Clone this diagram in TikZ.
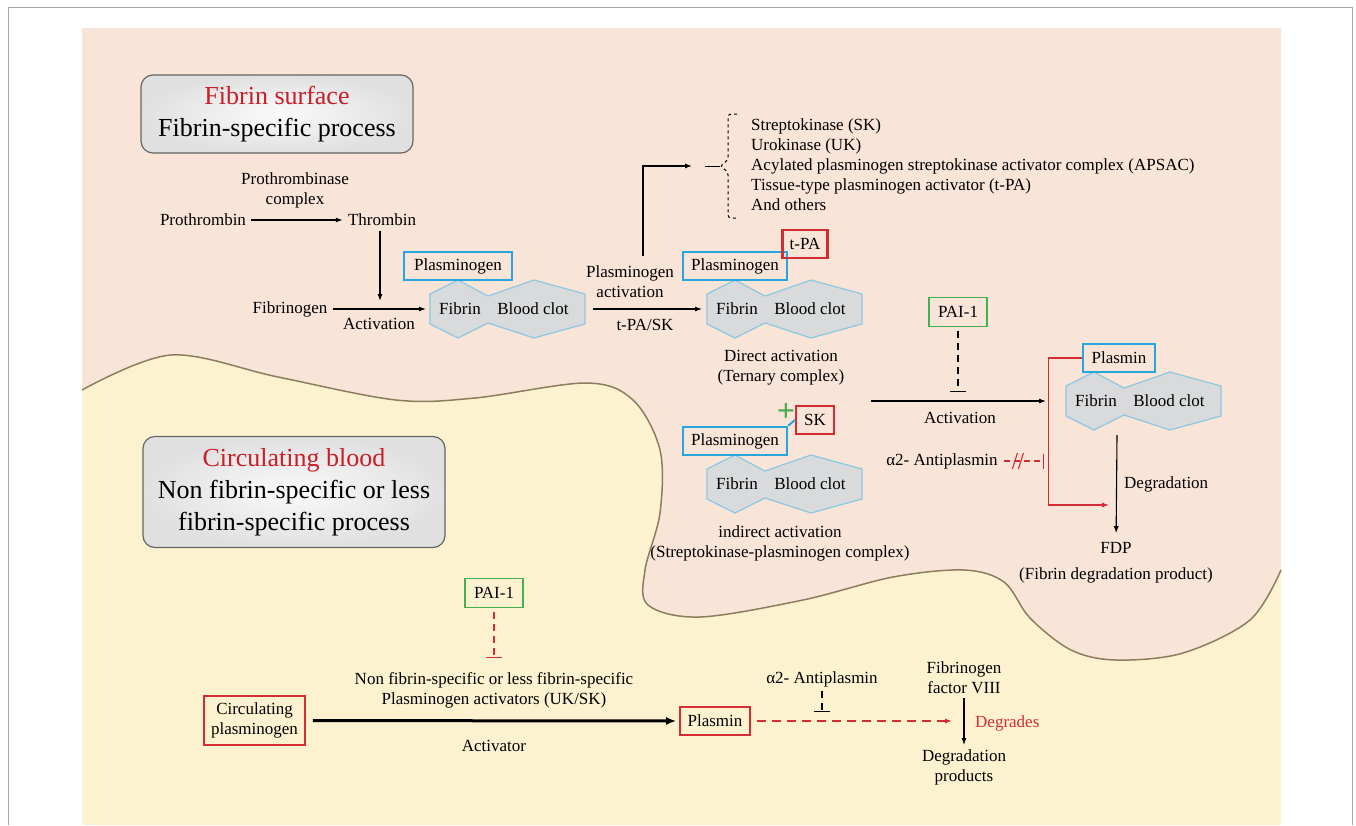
\documentclass[tikz,border=0pt]{standalone}
\usepackage{fontspec}
\setmainfont{Liberation Serif}
\usepackage{tikz}
\usetikzlibrary{arrows.meta, decorations.pathreplacing, positioning}
\definecolor{fibrinpink}{RGB}{249,228,216}
\definecolor{bloodyellow}{RGB}{253,242,208}
\definecolor{edgebrown}{RGB}{140,125,95}
\definecolor{plasblue}{RGB}{40,165,220}
\definecolor{actred}{RGB}{210,45,50}
\definecolor{inhgreen}{RGB}{70,175,80}
\definecolor{titlered}{RGB}{200,30,40}
\definecolor{clotgray}{RGB}{216,218,220}
\definecolor{clotedge}{RGB}{140,200,225}

\begin{document}
\begin{tikzpicture}[
    x=1pt, y=-1pt,
    txt/.style={inner sep=2pt, align=center, font=\fontsize{17}{20}\selectfont},
    areabox/.style={draw=gray!80!black, line width=1.2pt, rounded corners=12pt, inner color=gray!4, outer color=gray!24, align=center, font=\fontsize{26}{32}\selectfont},
    bluebox/.style={draw=plasblue, line width=2.5pt, minimum height=28pt, inner sep=0pt, font=\fontsize{17}{20}\selectfont},
    redbox/.style={draw=actred, line width=2.2pt, minimum height=28pt, inner sep=0pt, align=center, font=\fontsize{17}{20}\selectfont},
    greenbox/.style={draw=inhgreen, line width=1.5pt, minimum height=29pt, inner sep=0pt, font=\fontsize{17}{20}\selectfont},
    arrow/.style={-{Latex[length=7pt,width=5pt]}, line width=1.1pt},
    redarrow/.style={-{Latex[length=7pt,width=5pt]}, actred, line width=1.1pt},
    inhib/.style={-{Bar[width=16pt]}, line width=1.1pt, dash pattern=on 7pt off 5pt},
    redinhib/.style={-{Bar[width=15pt]}, actred, line width=1.1pt, dash pattern=on 6pt off 4pt},
    clot/.pic={
        \draw[draw=clotedge, fill=clotgray, line width=1.2pt, line join=round] (0,14) -- (28,0) -- (58,16) -- (104,0) -- (155,14) -- (155,44) -- (104,58) -- (58,43) -- (28,58) -- (0,44) -- cycle;
        \node[txt] (-fib) at (30,29) {Fibrin};
        \node[txt] (-bc) at (103,29) {Blood clot};
        \coordinate (-w) at (0,29);
        \coordinate (-e) at (155,29);
    }
]
    % Frame and background
    \useasboundingbox (0,0) rectangle (1356,825);
    \draw[gray!70, line width=1pt] (8,825) -- (8,7) -- (1352,7) -- (1352,825);
    \fill[bloodyellow] (82,28) rectangle (1281,825);
    \fill[fibrinpink] (82,28) -- (1281,28) -- plot[smooth, tension=0.55] coordinates {(1281,570) (1250,620) (1183,653) (1116,660) (1071,650) (1030,618) (1004,582) (964,570) (893,577) (803,600) (700,617) (648,605) (645,570) (660,513) (660,450) (633,400) (586,383) (475,398) (396,400) (278,377) (171,355) (82,390)} -- cycle;
    \draw[edgebrown, line width=1.5pt] plot[smooth, tension=0.55] coordinates {(1281,570) (1250,620) (1183,653) (1116,660) (1071,650) (1030,618) (1004,582) (964,570) (893,577) (803,600) (700,617) (648,605) (645,570) (660,513) (660,450) (633,400) (586,383) (475,398) (396,400) (278,377) (171,355) (82,390)};

    % Area titles
    \node[areabox, minimum width=272pt, minimum height=78pt] (fsurf) at (277,114) {\textcolor{titlered}{Fibrin surface}\\Fibrin-specific process};
    \node[areabox, minimum width=302pt, minimum height=111pt] (cblood) at (294,492) {\textcolor{titlered}{Circulating blood}\\Non fibrin-specific or less\\fibrin-specific process};

    % Thrombin
    \node[txt] (ptc) at (295,190) {Prothrombinase\\complex};
    \node[txt] (pro) at (203,220) {Prothrombin};
    \node[txt] (thr) at (382,220) {Thrombin};
    \coordinate (j1) at (380,301);
    \draw[arrow, shorten <=3pt, shorten >=3pt] (pro) -- (thr);
    \draw[arrow, shorten <=3pt] (thr.south -| j1) -- (j1);

    % Fibrin formation
    \node[txt] (fbg) at (290,309) {Fibrinogen};
    \node[txt] (act1) at (379,324) {Activation};
    \pic (c1) at (430,280) {clot};
    \node[bluebox, minimum width=108pt] (pl1) at (458,266) {Plasminogen};
    \draw[arrow, shorten <=3pt, shorten >=4pt] (fbg) -- (c1-w);

    % Direct activation
    \node[txt] (pact) at (630,282) {Plasminogen\\activation};
    \node[txt] (tpask) at (645,325) {t-PA/SK};
    \pic (c2) at (707,280) {clot};
    \node[bluebox, minimum width=104pt] (pl2) at (735,266) {Plasminogen};
    \node[redbox, minimum width=45pt] (tpa) at (805,244) {t-PA};
    \draw[arrow, shorten <=8pt, shorten >=5pt] (c1-e) -- (c2-w);
    \node[txt] (direct) at (781,368) {Direct activation\\(Ternary complex)};

    % Activators
    \coordinate (brk) at (720,166);
    \draw[dashed, line width=1pt, rounded corners=3pt] (737,114) -- (728,114) -- (728,160) -- (brk) -- (728,172) -- (728,218) -- (737,218);
    \draw[line width=1pt] (brk) -- ++(-15,0);
    \draw[arrow] ([xshift=13pt,yshift=8pt]pact.north) |- ([xshift=-28pt]brk);
    \node[txt, align=left, anchor=west] (agents) at (749,165) {Streptokinase (SK)\\Urokinase (UK)\\Acylated plasminogen streptokinase activator complex (APSAC)\\Tissue-type plasminogen activator (t-PA)\\And others};

    % Indirect activation
    \pic (c4) at (707,455) {clot};
    \node[bluebox, minimum width=104pt] (pl3) at (735,441) {Plasminogen};
    \node[redbox, minimum width=38pt] (sk) at (815,420) {SK};
    \node[text=inhgreen, inner sep=0pt, font=\fontsize{32}{32}\selectfont\bfseries] (plus) at (786,412) {+};
    \draw[plasblue, line width=2pt] (pl3.north east) -- (sk.west);
    \node[txt] (indirect) at (780,543) {indirect activation\\(Streptokinase-plasminogen complex)};

    % Plasmin on the clot
    \node[greenbox, minimum width=58pt] (pai1) at (958,312) {PAI-1};
    \coordinate (actin) at (871,401);
    \coordinate (actout) at (1046,401);
    \coordinate (j2) at (958,392);
    \draw[arrow] (actin) -- (actout);
    \node[txt] (act2) at (960,418) {Activation};
    \draw[inhib, shorten <=4pt] (pai1) -- (j2);
    \pic (c3) at (1066,372) {clot};
    \node[bluebox, minimum width=72pt] (plas1) at (1119,358) {Plasmin};

    % Antiplasmin and degradation
    \coordinate (redend) at (1109,505);
    \draw[redarrow] (plas1.west) -- ++(-33,0) |- (redend);
    \node[txt] (a2a) at (942,461) {α2- Antiplasmin};
    \coordinate (redbar) at (1044,461);
    \draw[redinhib, shorten <=4pt] (a2a) -- (redbar);
    \path (a2a.east) -- (redbar) coordinate[pos=0.42] (cut);
    \draw[actred, line width=1.1pt] ([shift={(-6,8)}]cut) -- ([shift={(-1,-8)}]cut);
    \draw[actred, line width=1.1pt] ([shift={(0,8)}]cut) -- ([shift={(5,-8)}]cut);
    \node[txt] (fdp) at (1116,548) {FDP};
    \node[txt] (fdpl) at (1116,575) {(Fibrin degradation product)};
    \coordinate (j3) at (1117,435);
    \draw[arrow, shorten >=7pt] (j3) -- (fdp);
    \node[txt, anchor=west] (degr) at (1122,484) {Degradation};

    % Circulating blood
    \node[redbox, line width=1.6pt, minimum width=101pt, minimum height=49pt] (circ) at (254.5,720.5) {Circulating\\plasminogen};
    \node[greenbox, minimum width=58pt] (pai2) at (494,593) {PAI-1};
    \coordinate (j4) at (494,658);
    \draw[inhib, actred, shorten <=4pt] (pai2) -- (j4);
    \node[txt] (nonfib) at (494,690) {Non fibrin-specific or less fibrin-specific\\Plasminogen activators (UK/SK)};
    \node[txt] (activator) at (494,746) {Activator};
    \node[redbox, line width=1.6pt, minimum width=70pt] (plas2) at (715,721) {Plasmin};
    \draw[-{Latex[length=10pt,width=8pt]}, line width=3pt, shorten <=7pt, shorten >=3pt] (circ) -- (plas2);
    \coordinate (j5) at (952,721);
    \draw[redarrow, dash pattern=on 9pt off 6pt, shorten <=6pt] (plas2) -- (j5);
    \node[txt] (a2b) at (822,679) {α2- Antiplasmin};
    \coordinate (j6) at (822,712);
    \draw[inhib, shorten <=2pt] (a2b) -- (j6);
    \node[txt] (fviii) at (964,678) {Fibrinogen\\factor VIII};
    \node[txt] (degprod) at (964,767) {Degradation\\products};
    \draw[arrow, shorten <=2pt, shorten >=2pt] (fviii) -- (degprod);
    \node[txt, anchor=west, text=actred] (degrades) at (973,723) {Degrades};
\end{tikzpicture}
\end{document}
